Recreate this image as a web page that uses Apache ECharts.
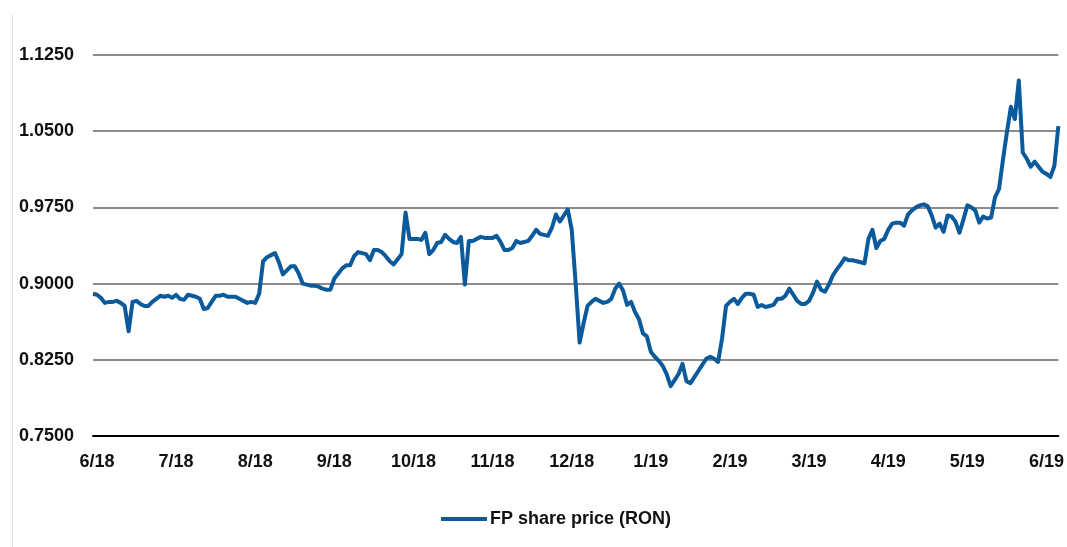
<!DOCTYPE html>
<html>
<head>
<meta charset="utf-8">
<script src="https://cdn.jsdelivr.net/npm/echarts@6/dist/echarts.min.js"></script>
<style>
html,body{margin:0;padding:0;background:#fff;}
#c{width:1067px;height:547px;}
</style>
</head>
<body>
<div id="c"></div>
<script>
// Tick labels (month starts), one every 20 trading-day points, first at point 1
const tickLabels = ['6/18','7/18','8/18','9/18','10/18','11/18','12/18','1/19','2/19','3/19','4/19','5/19','6/19'];
const yTicks = { min: 0.75, max: 1.125, interval: 0.075 };
const seriesName = 'FP share price (RON)';
// FP share price (RON)
const price = [
0.890,0.889,0.886,0.881,0.882,0.882,0.883,0.881,0.878,0.853,
0.882,0.883,0.880,0.878,0.878,0.882,0.885,0.888,0.887,0.888,
0.886,0.889,0.885,0.884,0.889,0.888,0.887,0.885,0.875,0.876,
0.882,0.888,0.888,0.889,0.887,0.887,0.887,0.885,0.883,0.881,
0.882,0.881,0.890,0.922,0.926,0.928,0.930,0.921,0.909,0.913,
0.917,0.917,0.910,0.900,0.899,0.898,0.898,0.897,0.895,0.894,
0.894,0.905,0.910,0.915,0.918,0.918,0.927,0.931,0.930,0.929,
0.923,0.933,0.933,0.931,0.927,0.922,0.919,0.924,0.929,0.970,
0.944,0.944,0.944,0.943,0.950,0.929,0.933,0.940,0.941,0.948,
0.944,0.941,0.940,0.946,0.899,0.942,0.942,0.944,0.946,0.945,
0.945,0.945,0.947,0.941,0.933,0.933,0.935,0.942,0.940,0.941,
0.942,0.947,0.953,0.949,0.948,0.947,0.955,0.968,0.961,0.967,
0.973,0.953,0.900,0.842,0.861,0.878,0.882,0.885,0.883,0.881,
0.882,0.885,0.895,0.900,0.893,0.879,0.882,0.872,0.865,0.851,
0.848,0.833,0.828,0.824,0.819,0.811,0.799,0.805,0.811,0.821,
0.804,0.802,0.808,0.814,0.820,0.826,0.828,0.826,0.823,0.846,
0.878,0.882,0.885,0.880,0.886,0.890,0.890,0.889,0.877,0.879,
0.877,0.878,0.879,0.885,0.885,0.888,0.895,0.889,0.883,0.880,
0.880,0.883,0.891,0.902,0.894,0.892,0.899,0.908,0.914,0.919,
0.925,0.923,0.923,0.922,0.921,0.920,0.944,0.953,0.935,0.942,
0.944,0.953,0.959,0.960,0.960,0.957,0.968,0.972,0.975,0.977,
0.978,0.976,0.967,0.955,0.959,0.951,0.967,0.966,0.961,0.950,
0.963,0.977,0.975,0.972,0.960,0.966,0.964,0.965,0.985,0.993,
1.022,1.049,1.074,1.062,1.100,1.029,1.023,1.015,1.020,1.015,
1.010,1.008,1.005,1.016,1.055
];

const FONT = '"Liberation Sans",Arial,sans-serif';
const cats = price.map((_, i) => ((i - 1) % 20 === 0 && tickLabels[(i - 1) / 20]) ? tickLabels[(i - 1) / 20] : '');

const chart = echarts.init(document.getElementById('c'), null, { renderer: 'canvas' });
chart.setOption({
  animation: false,
  backgroundColor: '#ffffff',
  graphic: [{
    type: 'line', shape: { x1: 12.5, y1: 14, x2: 12.5, y2: 547 },
    style: { stroke: '#e3e3e3', lineWidth: 1 }, silent: true
  }],
  grid: { left: 93, right: 8, top: 55, bottom: 111, containLabel: false },
  xAxis: {
    type: 'category',
    data: cats,
    boundaryGap: false,
    axisLine: { show: true, lineStyle: { color: '#000', width: 2 } },
    axisTick: { show: false },
    axisLabel: {
      interval: 0, margin: 17,
      color: '#111', fontFamily: FONT, fontWeight: 'bold', fontSize: 18
    },
    splitLine: { show: false }
  },
  yAxis: {
    type: 'value',
    min: yTicks.min, max: yTicks.max, interval: yTicks.interval,
    axisLine: { show: false },
    axisTick: { show: false },
    axisLabel: {
      margin: 19,
      color: '#111', fontFamily: FONT, fontWeight: 'bold', fontSize: 18,
      formatter: v => v.toFixed(4)
    },
    splitLine: { show: true, lineStyle: { color: '#8c8c8c', width: 2 } }
  },
  legend: {
    left: 436, top: 505,
    icon: 'rect', itemWidth: 46, itemHeight: 4, itemGap: 10,
    textStyle: { color: '#111', fontFamily: FONT, fontWeight: 'bold', fontSize: 18, padding: [0, 0, 0, -2] },
    data: [seriesName]
  },
  series: [{
    name: seriesName,
    type: 'line',
    data: price,
    symbol: 'none',
    smooth: false,
    lineStyle: { color: '#0b5a9c', width: 4, join: 'round' },
    itemStyle: { color: '#0b5a9c' },
    z: 3
  }]
});
</script>
</body>
</html>
